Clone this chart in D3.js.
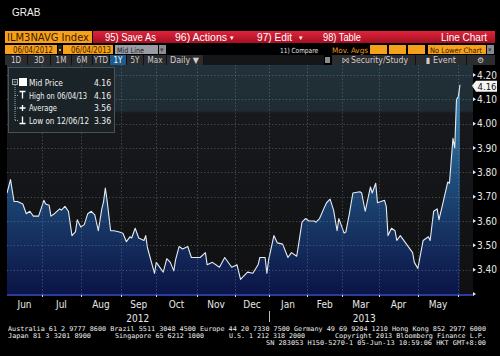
<!DOCTYPE html>
<html>
<head>
<meta charset="utf-8">
<script src="https://cdn.jsdelivr.net/npm/d3@7"></script>
<style>
body { margin: 0; background: #000; }
svg { display: block; }
</style>
</head>
<body>
<div id="chart"></div>
<script>
// ILM3NAVG Index, mid price, daily, 06/04/2012 - 06/04/2013
const dates = [
    "2012-06-04","2012-06-06","2012-06-08","2012-06-12","2012-06-15","2012-06-19","2012-06-21","2012-06-25","2012-06-28",
    "2012-07-03","2012-07-04","2012-07-06","2012-07-09","2012-07-11","2012-07-16","2012-07-17","2012-07-19","2012-07-23",
    "2012-07-25","2012-07-27","2012-07-30","2012-08-01","2012-08-03","2012-08-07","2012-08-09","2012-08-13","2012-08-15",
    "2012-08-17","2012-08-20","2012-08-21","2012-08-22","2012-08-24","2012-08-28","2012-08-31","2012-09-04","2012-09-06",
    "2012-09-10","2012-09-11","2012-09-13","2012-09-17","2012-09-20","2012-09-21","2012-09-24","2012-09-28","2012-10-01",
    "2012-10-05","2012-10-09","2012-10-11","2012-10-15","2012-10-16","2012-10-18","2012-10-22","2012-10-25","2012-10-29",
    "2012-11-01","2012-11-05","2012-11-08","2012-11-09","2012-11-14","2012-11-20","2012-11-23","2012-11-29","2012-12-04",
    "2012-12-06","2012-12-12","2012-12-17","2012-12-20","2012-12-21","2012-12-28","2012-12-31","2013-01-02","2013-01-07",
    "2013-01-09","2013-01-14","2013-01-17","2013-01-21","2013-01-24","2013-01-25","2013-01-29","2013-01-31","2013-02-04",
    "2013-02-07","2013-02-08","2013-02-12","2013-02-15","2013-02-18","2013-02-20","2013-02-22","2013-02-26","2013-02-27",
    "2013-03-04","2013-03-05","2013-03-07","2013-03-11","2013-03-15","2013-03-18","2013-03-20","2013-03-25","2013-03-26",
    "2013-03-28","2013-03-29","2013-04-04","2013-04-05","2013-04-08","2013-04-10","2013-04-12","2013-04-15","2013-04-17",
    "2013-04-22","2013-04-26","2013-04-29","2013-05-01","2013-05-06","2013-05-09","2013-05-10","2013-05-14","2013-05-16",
    "2013-05-17","2013-05-21","2013-05-24","2013-05-27","2013-05-28","2013-05-29","2013-05-30","2013-05-31","2013-06-03",
    "2013-06-04"
];
const midPrice = [
    3.715, 3.77, 3.68, 3.68, 3.67, 3.63, 3.64, 3.62, 3.62,
    3.685, 3.67, 3.665, 3.62, 3.63, 3.65, 3.645, 3.66, 3.64,
    3.54, 3.555, 3.605, 3.575, 3.585, 3.63, 3.64, 3.625, 3.56,
    3.65, 3.68, 3.735, 3.685, 3.56, 3.56, 3.555, 3.55, 3.515,
    3.535, 3.53, 3.57, 3.53, 3.52, 3.54, 3.49, 3.385, 3.43,
    3.39, 3.445, 3.43, 3.395, 3.44, 3.495, 3.485, 3.495, 3.45,
    3.45, 3.45, 3.47, 3.42, 3.43, 3.41, 3.45, 3.41, 3.42,
    3.36, 3.39, 3.385, 3.42, 3.45, 3.45, 3.385, 3.44, 3.54,
    3.51, 3.505, 3.45, 3.47, 3.455, 3.50, 3.595, 3.61, 3.60,
    3.60, 3.595, 3.61, 3.66, 3.675, 3.69, 3.645, 3.56, 3.61,
    3.55, 3.555, 3.63, 3.715, 3.72, 3.715, 3.64, 3.74, 3.715,
    3.755, 3.675, 3.685, 3.66, 3.54, 3.57, 3.56, 3.52, 3.54,
    3.51, 3.47, 3.43, 3.405, 3.52, 3.535, 3.52, 3.64, 3.65,
    3.605, 3.665, 3.76, 3.755, 3.85, 3.94, 3.90, 4.10, 4.11,
    4.16
];
const holidays = ["2012-12-25", "2012-12-26", "2013-01-01"];
const yTicks = [3.40, 3.50, 3.60, 3.70, 3.80, 3.90, 4.00, 4.10, 4.20];
const monthNames = ["Jun", "Jul", "Aug", "Sep", "Oct", "Nov", "Dec", "Jan", "Feb", "Mar", "Apr", "May"];
const yearNames = ["2012", "2013"];
const legendLabels = ["Mid Price", "High on 06/04/13", "Average", "Low on 12/06/12"];
const legendValues = ["4.16", "4.16", "3.56", "3.36"];
const lastValue = "4.16";
const footerLines = [
    "Australia 61 2 9777 8600 Brazil 5511 3048 4500 Europe 44 20 7330 7500 Germany 49 69 9204 1210 Hong Kong 852 2977 6000",
    "SN 283053 H150-5270-1 05-Jun-13 10:59:06 HKT  GMT+8:00"
];
const footerMid = ["Japan 81 3 3201 8900", "Singapore 65 6212 1000", "U.S. 1 212 318 2000", "Copyright 2013 Bloomberg Finance L.P."];

const W = 500, H = 356;
const plot = { left: 7, right: 473, top: 65, bottom: 294, dataEnd: 460 };
const uiFont = "'Liberation Sans', Arial, sans-serif";
const narrowFont = "'Liberation Sans Narrow', 'DejaVu Sans Condensed', sans-serif";

const parse = d3.timeParse("%Y-%m-%d");
const fmt = d3.timeFormat("%Y-%m-%d");
const data = dates.map((d, i) => ({ date: parse(d), v: midPrice[i] }));

// trading days (weekdays minus holidays) drive the x positions
const days = d3.timeDay.range(parse("2012-06-04"), parse("2013-06-05"))
    .filter(d => d.getDay() !== 0 && d.getDay() !== 6 && !holidays.includes(fmt(d)));

const xi = d3.scaleLinear().domain([0, days.length - 1]).range([plot.left, plot.dataEnd]);
const xd = date => xi(d3.bisectLeft(days, date));
const y = d3.scaleLinear().domain([3.30, 4.20]).range([plot.bottom, 75]);

const monthStarts = days.filter((d, i) => i === 0 || d.getMonth() !== days[i - 1].getMonth());

const svg = d3.select("#chart").append("svg")
    .attr("width", W).attr("height", H)
    .style("background", "#000");

const defs = svg.append("defs");
const redGrad = defs.append("linearGradient").attr("id", "redbar").attr("x1", 0).attr("y1", 0).attr("x2", 0).attr("y2", 1);
redGrad.append("stop").attr("offset", "0%").attr("stop-color", "#e0243c");
redGrad.append("stop").attr("offset", "100%").attr("stop-color", "#a50f22");

const areaGrad = defs.append("linearGradient").attr("id", "areafill")
    .attr("gradientUnits", "userSpaceOnUse")
    .attr("x1", 0).attr("y1", 75).attr("x2", 0).attr("y2", plot.bottom);
areaGrad.append("stop").attr("offset", "0%").attr("stop-color", "#3f8dbd");
areaGrad.append("stop").attr("offset", "45%").attr("stop-color", "#20507c");
areaGrad.append("stop").attr("offset", "100%").attr("stop-color", "#0b1446");

const bgGrad = defs.append("linearGradient").attr("id", "plotbg").attr("x1", 0).attr("y1", 0).attr("x2", 0).attr("y2", 1);
bgGrad.append("stop").attr("offset", "0%").attr("stop-color", "#22323b");
bgGrad.append("stop").attr("offset", "20%").attr("stop-color", "#1e2b32");
bgGrad.append("stop").attr("offset", "21%").attr("stop-color", "#17191c");
bgGrad.append("stop").attr("offset", "100%").attr("stop-color", "#101012");

defs.append("clipPath").attr("id", "plotclip")
    .append("rect").attr("x", plot.left).attr("y", plot.top)
    .attr("width", plot.right - plot.left).attr("height", plot.bottom - plot.top);

// title
svg.append("text").text("GRAB")
    .attr("x", 12).attr("y", 16)
    .attr("fill", "#f2f2f2").attr("font-family", uiFont).attr("font-size", 10);

function box(x, yy, w, h, fill) {
    return svg.append("rect").attr("x", x).attr("y", yy).attr("width", w).attr("height", h).attr("fill", fill);
}
function label(t, x, yy, size, color, font, len, anchor) {
    const el = svg.append("text").text(t).attr("x", x).attr("y", yy)
        .attr("font-size", size).attr("fill", color).attr("font-family", font || uiFont)
        .attr("text-anchor", anchor || "start");
    if (len) el.attr("textLength", len).attr("lengthAdjust", "spacingAndGlyphs");
    return el;
}

// ---- header row 1
box(5, 31, 87, 12, "#f7a11a");
label("ILM3NAVG Index", 7, 41, 11, "#3a1a00", narrowFont, 82);
box(93, 31, 402, 12, "url(#redbar)");

const redItems = [
    { x: 105, t: "95) Save As", w: 51 },
    { x: 175, t: "96) Actions", w: 52 },
    { x: 257, t: "97) Edit", w: 35 },
    { x: 323, t: "98) Table", w: 38 }
];
svg.selectAll("text.red").data(redItems).join("text")
    .attr("class", "red")
    .attr("x", d => d.x).attr("y", 41)
    .attr("textLength", d => d.w).attr("lengthAdjust", "spacingAndGlyphs")
    .attr("fill", "#fff").attr("font-family", uiFont).attr("font-size", 11)
    .text(d => d.t);
svg.selectAll("text.caret").data([230, 299]).join("text")
    .attr("class", "caret")
    .attr("x", d => d).attr("y", 40)
    .attr("fill", "#fff").attr("font-family", uiFont).attr("font-size", 7)
    .text("\u25BE");
label("Line Chart", 487, 41, 11, "#fff", uiFont, 46, "end");

// ---- header row 2
box(5, 45, 52, 9, "#f7a11a");
label("06/04/2012", 13, 52.5, 8, "#3a1a00", narrowFont, 40);
box(58, 45, 4, 9, "#222");
box(59, 49, 2, 2, "#f7a11a");
box(63, 45, 50, 9, "#f7a11a");
label("06/04/2013", 71, 52.5, 8, "#3a1a00", narrowFont, 40);
box(115, 45, 43, 9, "#9a9ca3");
label("Mid Line", 117, 52.5, 7.5, "#1c1c2a", narrowFont, 27);
box(159, 45, 7, 9, "#8a8c92");
label("\u25BE", 160, 52, 7, "#444");
label("11) Compare", 280, 52.5, 7, "#e6e6e6", narrowFont, 38);
label("Mov. Avgs", 332, 52.5, 7.5, "#e8951a", narrowFont, 36);
[370, 389, 408].forEach(x0 => box(x0, 45, 17, 9, "#f7a11a"));
box(428, 45, 58, 9, "#f7a11a");
label("No Lower Chart", 430, 52.5, 7.5, "#3a1a00", narrowFont, 52);
box(487, 45, 7, 9, "#8a8c92");
label("\u25BE", 488, 52, 7, "#444");

// ---- header row 3
box(5, 55, 198, 10, "#2b2d30");
const periods = [
    { t: "1D", x: 5, w: 22 }, { t: "3D", x: 28, w: 22 }, { t: "1M", x: 51, w: 20 },
    { t: "6M", x: 72, w: 20 }, { t: "YTD", x: 93, w: 16 }, { t: "1Y", x: 110, w: 16 },
    { t: "5Y", x: 127, w: 16 }, { t: "Max", x: 144, w: 22 }
];
periods.forEach(p => {
    box(p.x, 55, p.w, 10, p.t === "1Y" ? "#1d5c8c" : "#2b2d30");
    box(p.x + p.w, 55, 1, 10, "#111");
    label(p.t, p.x + p.w / 2, 63, 8, p.t === "1Y" ? "#fff" : "#cfcfcf", narrowFont, null, "middle");
});
label("Daily \u25BC", 170, 63, 8, "#cfcfcf", narrowFont, 29);
box(203, 55, 1, 10, "#111");
box(204, 55, 120, 10, "#141618");
box(325, 57, 5, 6, "#8a8c92");
box(332, 55, 163, 10, "#2b2d30");
[415, 466].forEach(x0 => box(x0, 55, 1, 10, "#111"));
label("\u2A1D Security/Study", 342, 63, 8, "#cfcfcf", narrowFont, 66);
label("\u25AE Event", 426, 63, 8, "#cfcfcf", narrowFont, 30);
label("\u2699", 480, 63, 8, "#cfcfcf", uiFont, null, "middle");

// ---- plot
svg.append("rect").attr("x", plot.left).attr("y", plot.top)
    .attr("width", plot.right - plot.left).attr("height", plot.bottom - plot.top)
    .attr("fill", "url(#plotbg)");

const area = d3.area()
    .x(d => xd(d.date))
    .y0(plot.bottom)
    .y1(d => y(d.v));
const line = d3.line()
    .x(d => xd(d.date))
    .y(d => y(d.v));

const plotG = svg.append("g").attr("clip-path", "url(#plotclip)");
plotG.append("path").datum(data).attr("d", area).attr("fill", "url(#areafill)");

// grid
const grid = svg.append("g")
    .attr("stroke", "#8a97a3").attr("stroke-opacity", 0.55)
    .attr("stroke-width", 0.8).attr("stroke-dasharray", "1.2,2.2");
grid.selectAll("line.h").data([3.30].concat(yTicks)).join("line")
    .attr("class", "h")
    .attr("x1", plot.left).attr("x2", plot.right)
    .attr("y1", d => Math.round(y(d)) + 0.5).attr("y2", d => Math.round(y(d)) + 0.5);
grid.selectAll("line.v").data(monthStarts.slice(1)).join("line")
    .attr("class", "v")
    .attr("x1", d => Math.round(xd(d)) + 0.5).attr("x2", d => Math.round(xd(d)) + 0.5)
    .attr("y1", plot.top).attr("y2", plot.bottom);

plotG.append("path").datum(data).attr("d", line)
    .attr("fill", "none").attr("stroke", "#e4ecf4").attr("stroke-width", 1.1)
    .attr("stroke-linejoin", "round");

// bottom axis line + month ticks
svg.append("line").attr("x1", plot.left).attr("x2", plot.right)
    .attr("y1", plot.bottom + 1).attr("y2", plot.bottom + 1)
    .attr("stroke", "#2a3d9c").attr("stroke-width", 2);
svg.selectAll("line.mtick").data(monthStarts.slice(1)).join("line")
    .attr("class", "mtick")
    .attr("x1", d => Math.round(xd(d)) + 0.5).attr("x2", d => Math.round(xd(d)) + 0.5)
    .attr("y1", plot.bottom + 1).attr("y2", plot.bottom + 3)
    .attr("stroke", "#cfd6e0");

// month labels, centred on each month
svg.selectAll("text.month").data(monthNames).join("text")
    .attr("class", "month")
    .attr("x", (d, i) => (xd(monthStarts[i]) + xd(monthStarts[i + 1])) / 2)
    .attr("y", 308)
    .attr("text-anchor", "middle")
    .attr("fill", "#e8e8e8").attr("font-family", narrowFont).attr("font-size", 10)
    .text(d => d);

const jan = monthStarts.find(d => d.getMonth() === 0);
const yearSpans = [[days[0], jan], [jan, days[days.length - 1]]];
svg.selectAll("text.year").data(yearNames).join("text")
    .attr("class", "year")
    .attr("x", (d, i) => (xd(yearSpans[i][0]) + xd(yearSpans[i][1])) / 2)
    .attr("y", 322)
    .attr("text-anchor", "middle")
    .attr("fill", "#e8e8e8").attr("font-family", narrowFont).attr("font-size", 10)
    .text(d => d);
svg.append("line")
    .attr("x1", Math.round(xd(jan)) + 0.5).attr("x2", Math.round(xd(jan)) + 0.5)
    .attr("y1", 311).attr("y2", 322).attr("stroke", "#bbb");

// right axis
const axisG = svg.append("g");
axisG.selectAll("path.tri").data([3.30].concat(yTicks)).join("path")
    .attr("class", "tri")
    .attr("d", d => {
        const yy = y(d);
        return `M${plot.right},${yy - 2}L${plot.right + 3},${yy}L${plot.right},${yy + 2}Z`;
    })
    .attr("fill", "#e8e8e8");
axisG.selectAll("text").data(yTicks).join("text")
    .attr("x", plot.right + 4).attr("y", d => y(d) + 3.5)
    .attr("fill", "#e8e8e8").attr("font-family", narrowFont).attr("font-size", 10)
    .text(d => d.toFixed(2));

// last value tag
const yl = y(+lastValue) + 1;
svg.append("path")
    .attr("d", `M${plot.right - 1},${yl}L${plot.right + 3},${yl - 5}L${plot.right + 24},${yl - 5}L${plot.right + 24},${yl + 6}L${plot.right + 3},${yl + 6}Z`)
    .attr("fill", "#f4f4f4");
svg.append("text").text(lastValue)
    .attr("x", plot.right + 14).attr("y", yl + 4)
    .attr("text-anchor", "middle").attr("fill", "#111")
    .attr("font-family", narrowFont).attr("font-size", 9.5);

// legend
const lg = svg.append("g");
lg.append("rect").attr("x", 8.5).attr("y", 67.5).attr("width", 106).attr("height", 65)
    .attr("fill", "#1a2226").attr("fill-opacity", 0.9)
    .attr("stroke", "#4a5258").attr("stroke-width", 1);
const rowY = legendLabels.map((d, i) => 86 + i * 12.5);
const labelW = [34, 58, 28, 60];
lg.append("rect").attr("x", 12.5).attr("y", 79.5).attr("width", 5).attr("height", 5)
    .attr("fill", "none").attr("stroke", "#9aa");
lg.append("line").attr("x1", 13.5).attr("x2", 16.5).attr("y1", 82).attr("y2", 82).attr("stroke", "#9aa");
lg.append("line").attr("x1", 15).attr("x2", 15).attr("y1", 85).attr("y2", rowY[3] - 3)
    .attr("stroke", "#9aa").attr("stroke-dasharray", "1,1");
lg.selectAll("line.branch").data(rowY.slice(1)).join("line")
    .attr("class", "branch")
    .attr("x1", 15).attr("x2", 19).attr("y1", d => d - 3).attr("y2", d => d - 3)
    .attr("stroke", "#9aa").attr("stroke-dasharray", "1,1");
lg.append("rect").attr("x", 19).attr("y", 78).attr("width", 8).attr("height", 8).attr("fill", "#fff");
const icon = lg.append("g").attr("stroke", "#fff").attr("stroke-width", 1.3).attr("fill", "none");
icon.append("path").attr("d", `M19.5,${rowY[1] - 7}H25.5M22.5,${rowY[1] - 7}V${rowY[1]}`);
icon.append("path").attr("d", `M19.5,${rowY[2] - 3}H25.5M22.5,${rowY[2] - 6}V${rowY[2]}`);
icon.append("path").attr("d", `M22.5,${rowY[3] - 7}V${rowY[3]}M19.5,${rowY[3]}H25.5`);
lg.selectAll("text.lname").data(legendLabels).join("text")
    .attr("class", "lname")
    .attr("x", 29).attr("y", (d, i) => rowY[i])
    .attr("textLength", (d, i) => labelW[i]).attr("lengthAdjust", "spacingAndGlyphs")
    .attr("fill", "#f0f0f0").attr("font-family", narrowFont).attr("font-size", 8.5)
    .text(d => d);
lg.selectAll("text.lval").data(legendValues).join("text")
    .attr("class", "lval")
    .attr("x", 111).attr("y", (d, i) => rowY[i])
    .attr("text-anchor", "end")
    .attr("fill", "#f0f0f0").attr("font-family", narrowFont).attr("font-size", 8.5)
    .text(d => d);

// footer
const mono = "'DejaVu Sans Mono', 'Liberation Mono', monospace";
label(footerLines[0], 8, 331, 6.5, "#eee", mono, 478);
const midX = [8, 115, 229, 335];
const midW = [83, 89, 76, 151];
footerMid.forEach((t, i) => label(t, midX[i], 338, 6.5, "#eee", mono, midW[i]));
label(footerLines[1], 266, 345, 6.5, "#eee", mono, 220);
</script>
</body>
</html>
